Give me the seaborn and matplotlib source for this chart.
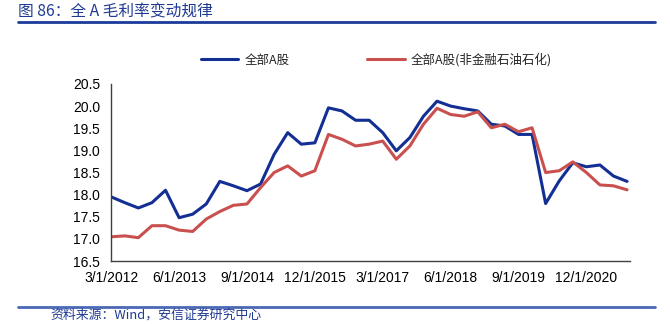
import matplotlib
matplotlib.use("Agg")
import matplotlib.pyplot as plt
import seaborn as sns
import pandas as pd
from matplotlib.lines import Line2D

# Quarterly TTM gross margin (%), 2012Q1 .. 2021Q3
quarters = pd.date_range("2012-03-01", periods=39, freq="3MS")
all_a = [17.95, 17.82, 17.70, 17.82, 18.10, 17.48, 17.56, 17.79, 18.30, 18.20,
         18.09, 18.24, 18.91, 19.40, 19.14, 19.17, 19.96, 19.89, 19.68, 19.68,
         19.40, 18.99, 19.29, 19.77, 20.11, 20.00, 19.94, 19.89, 19.59, 19.55,
         19.36, 19.36, 17.80, 18.31, 18.72, 18.63, 18.67, 18.42, 18.30]
ex_fin_oil = [17.05, 17.07, 17.03, 17.30, 17.30, 17.20, 17.17, 17.45, 17.62, 17.76,
              17.79, 18.16, 18.50, 18.65, 18.42, 18.54, 19.36, 19.25, 19.10, 19.14,
              19.21, 18.80, 19.10, 19.59, 19.95, 19.81, 19.77, 19.87, 19.51, 19.59,
              19.42, 19.51, 18.50, 18.54, 18.74, 18.50, 18.22, 18.20, 18.11]
series_names = ["全部A股", "全部A股(非金融石油石化)"]
y_ticks = [16.5, 17.0, 17.5, 18.0, 18.5, 19.0, 19.5, 20.0, 20.5]

BLUE = "#132f94"
RED = "#c9504e"

sns.set_theme(style="white")
plt.rcParams["font.family"] = ["Noto Sans CJK SC", "DejaVu Sans"]
plt.rcParams["axes.unicode_minus"] = False

df = pd.DataFrame({"idx": range(len(quarters)), "date": quarters,
                   series_names[0]: all_a, series_names[1]: ex_fin_oil})
long = df.melt(id_vars=["idx", "date"], value_vars=series_names,
               var_name="series", value_name="value")

fig = plt.figure(figsize=(6.7, 3.24), dpi=100)
ax = fig.add_axes([0.166, 0.194, 0.774, 0.547])

sns.lineplot(data=long, x="idx", y="value", hue="series",
             palette=[BLUE, RED], linewidth=2.2, ax=ax, legend=False)

ax.set_xlim(0, 38.2)
ax.set_ylim(16.5, 20.5)
ax.set_yticks(y_ticks)
ax.set_yticklabels([f"{v:.1f}" for v in y_ticks], fontfamily="Liberation Sans")
tick_pos = list(range(0, 39, 5))
ax.set_xticks(tick_pos)
ax.set_xticklabels([f"{d.month}/1/{d.year}" for d in quarters[tick_pos]],
                   fontfamily="Liberation Sans")
ax.set_xlabel("")
ax.set_ylabel("")

for side in ["top", "right"]:
    ax.spines[side].set_visible(False)
for side in ["left", "bottom"]:
    ax.spines[side].set_color("#404040")
    ax.spines[side].set_linewidth(1.0)
ax.tick_params(axis="both", direction="in", length=4, width=1,
               color="#404040", labelsize=10, labelcolor="black")
ax.tick_params(axis="x", pad=7)
ax.tick_params(axis="y", pad=8)

handles = [Line2D([], [], color=BLUE, linewidth=2.2),
           Line2D([], [], color=RED, linewidth=2.2)]
fig.legend(handles, series_names, loc="center", bbox_to_anchor=(0.562, 0.815),
           ncol=2, frameon=False, fontsize=9, handlelength=3.0,
           columnspacing=6.2, handletextpad=0.5)

# Header and footer
fig.text(0.027, 0.963, "图 86：全 A 毛利率变动规律", color="#1f3a93",
         fontsize=11.3, va="center", ha="left")
fig.add_artist(Line2D([0.027, 0.978], [0.932, 0.932], color="#1b3b9a",
                      linewidth=2.0, transform=fig.transFigure))
fig.add_artist(Line2D([0.027, 0.978], [0.053, 0.053], color="#4a68b4",
                      linewidth=2.0, transform=fig.transFigure))
fig.text(0.075, 0.028, "资料来源：Wind，安信证券研究中心", color="#1f3a93",
         fontsize=9.3, va="center", ha="left", style="italic")

fig.savefig("out.png", dpi=100)
